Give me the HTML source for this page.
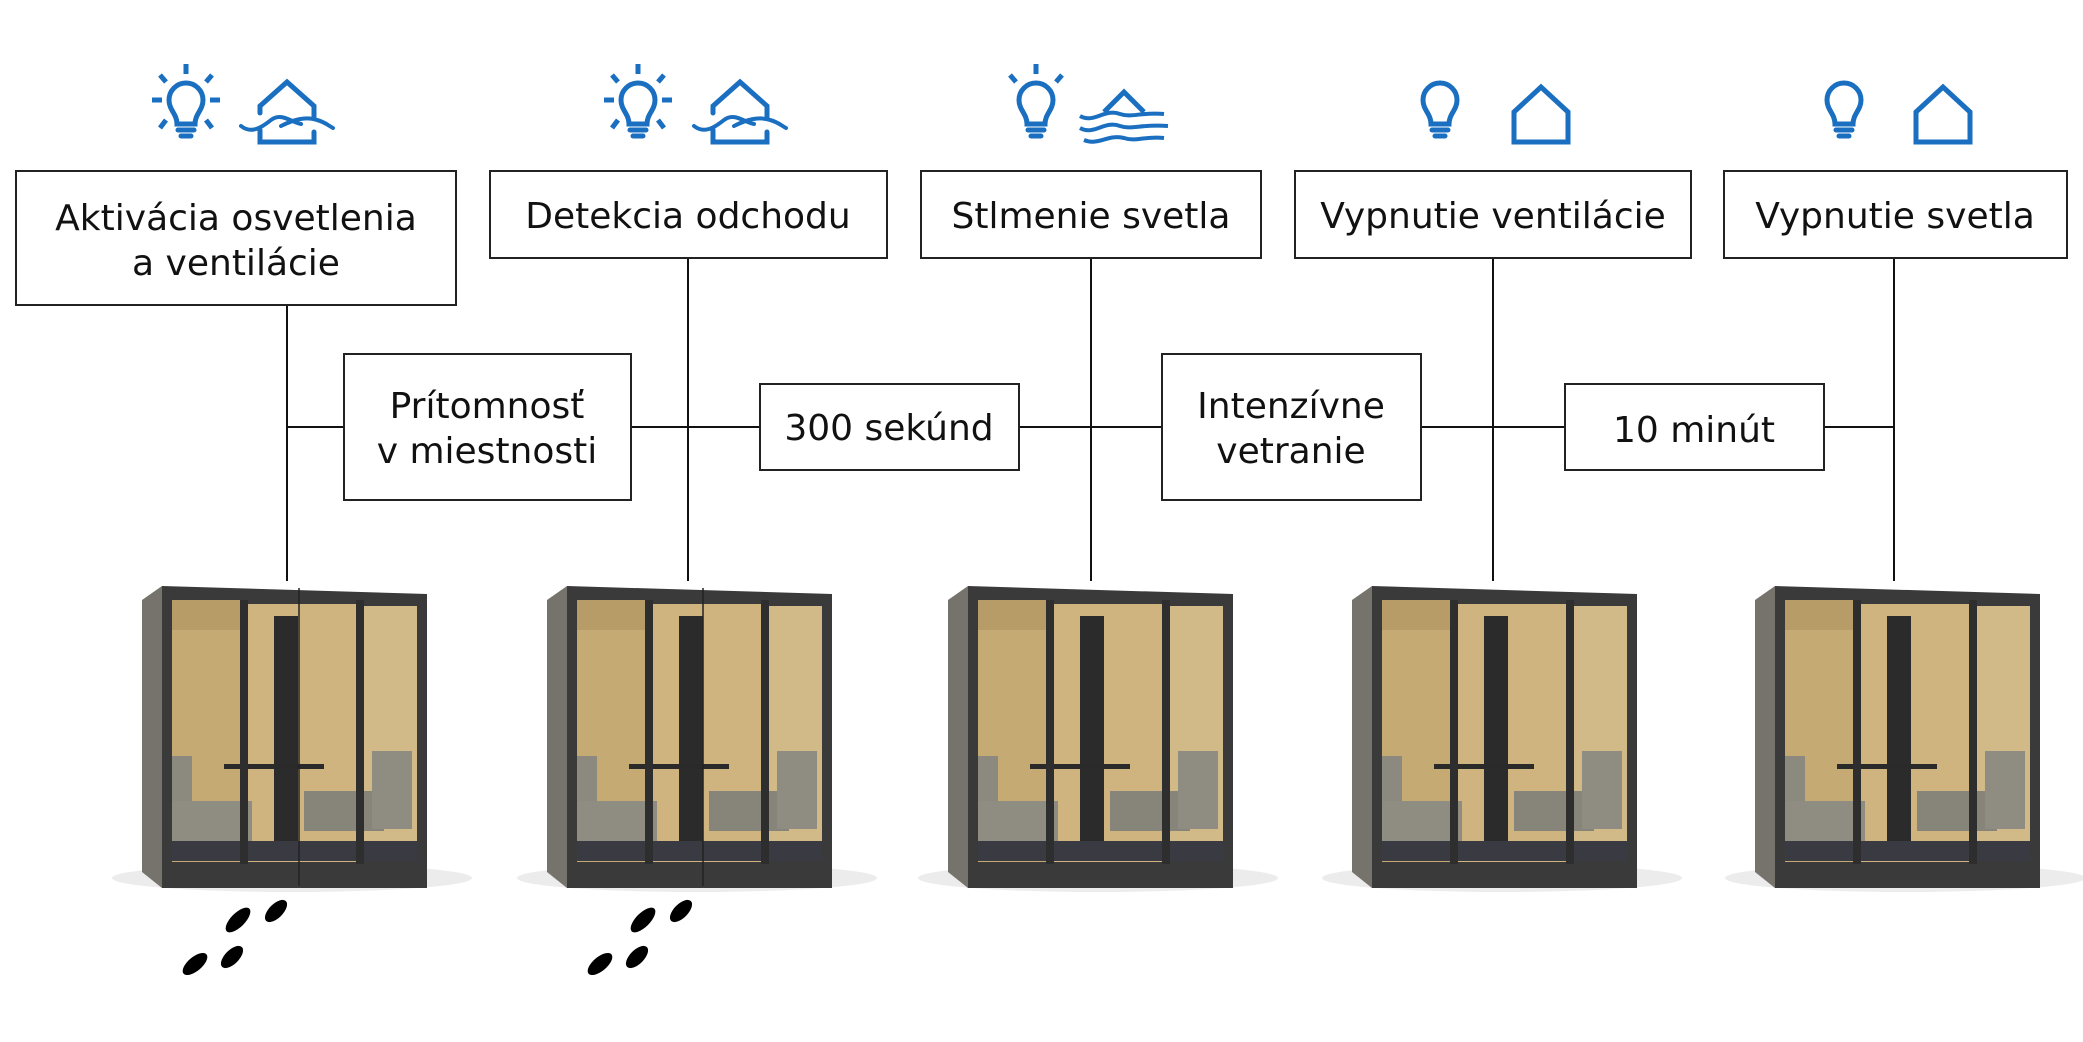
<!DOCTYPE html>
<html><head><meta charset="utf-8"><style>
html,body{margin:0;padding:0;background:#fff}
svg{display:block}
text{font-family:"DejaVu Sans","Liberation Sans",sans-serif;font-size:36px;fill:#111}
</style></head><body>
<svg width="2083" height="1042" viewBox="0 0 2083 1042" xmlns="http://www.w3.org/2000/svg">
<defs>
<g id="booth">
  <ellipse cx="150" cy="292" rx="180" ry="14" fill="#ececec"/>
  <polygon points="0,14 20,0 20,302 0,286" fill="#75736c"/>
  <polygon points="20,0 285,8 285,302 20,302" fill="#3a3a3a"/>
  <rect x="30" y="14" width="68" height="262" fill="#c6aa74"/>
  <rect x="106" y="18" width="108" height="258" fill="#cfb47f"/>
  <rect x="222" y="20" width="53" height="254" fill="#d2b988"/>
  <rect x="30" y="14" width="68" height="30" fill="#b89c68"/>
  <rect x="132" y="30" width="24" height="240" fill="#2b2b2b"/>
  <rect x="82" y="178" width="100" height="5" fill="#2a2a2a"/>
  <rect x="30" y="170" width="20" height="50" fill="#8c897f"/>
  <rect x="30" y="215" width="80" height="40" fill="#8f8c82"/>
  <rect x="162" y="205" width="80" height="40" fill="#87847a"/>
  <rect x="230" y="165" width="40" height="78" fill="#8f8c82"/>
  <rect x="30" y="255" width="245" height="20" fill="#3a3b42"/>
  <rect x="98" y="14" width="8" height="264" fill="#2e2e2e"/>
  <rect x="214" y="14" width="8" height="264" fill="#2e2e2e"/>
</g>
<g id="bulb" fill="none" stroke="#1a6fc0" stroke-width="5" stroke-linecap="round">
  <path d="M-9,14 C-9,4 -17,0 -17,-10 A17,17 0 1 1 17,-10 C17,0 9,4 9,14 Z"/>
  <line x1="-8" y1="20" x2="8" y2="20"/>
  <line x1="-5" y1="26" x2="5" y2="26"/>
</g>
<g id="rays" stroke="#1a6fc0" stroke-width="5" stroke-linecap="butt">
  <line x1="0" y1="-36" x2="0" y2="-46"/>
  <line x1="-20" y1="-28" x2="-26" y2="-35"/>
  <line x1="20" y1="-28" x2="26" y2="-35"/>
  <line x1="-24" y1="-10" x2="-34" y2="-10"/>
  <line x1="24" y1="-10" x2="34" y2="-10"/>
  <line x1="-20" y1="10" x2="-26" y2="18"/>
  <line x1="20" y1="10" x2="26" y2="18"/>
</g>
<g id="house" fill="none" stroke="#1a6fc0" stroke-width="5" stroke-linejoin="miter">
  <path d="M-27,-2 L0,-27 L27,-2 L27,28 L-27,28 Z"/>
</g>
<g id="whouse" fill="none" stroke="#1a6fc0" stroke-linecap="round">
  <path d="M-27,3 V-4 L0,-28 L27,-4 V8" stroke-width="5"/>
  <path d="M-27,20 V32 H27 V22" stroke-width="5"/>
  <path d="M-46,16 C-36,24 -26,18 -16,10 C-6,2 4,12 14,14" stroke-width="4"/>
  <path d="M-6,16 C6,10 18,6 30,10 C38,12 42,16 46,18" stroke-width="4"/>
</g>
</defs>

<!-- icons -->
<g transform="translate(186,110)"><use href="#bulb"/><use href="#rays"/></g>
<g transform="translate(287,110)"><use href="#whouse"/></g>
<g transform="translate(638,110)"><use href="#bulb"/><use href="#rays"/></g>
<g transform="translate(740,110)"><use href="#whouse"/></g>
<g transform="translate(1036,110)"><use href="#bulb"/>
  <g stroke="#1a6fc0" stroke-width="5"><line x1="0" y1="-36" x2="0" y2="-46"/><line x1="-20" y1="-28" x2="-26" y2="-35"/><line x1="20" y1="-28" x2="26" y2="-35"/></g></g>
<g transform="translate(1124,112)"><path d="M-20,0 L0,-20 L20,0" fill="none" stroke="#1a6fc0" stroke-width="5"/>
  <path d="M-44,4 C-30,12 -20,-4 -4,2 C8,6 16,0 40,2 M-44,16 C-30,24 -20,8 -4,14 C8,18 16,12 44,14 M-40,28 C-26,34 -16,22 0,26 C12,30 20,24 40,26" fill="none" stroke="#1a6fc0" stroke-width="4"/></g>
<g transform="translate(1440,110)"><use href="#bulb"/></g>
<g transform="translate(1541,114)"><use href="#house"/></g>
<g transform="translate(1844,110)"><use href="#bulb"/></g>
<g transform="translate(1943,114)"><use href="#house"/></g>

<!-- connectors -->
<g stroke="#111" stroke-width="2">
  <line x1="287" y1="305" x2="287" y2="581"/>
  <line x1="688" y1="258" x2="688" y2="581"/>
  <line x1="1091" y1="258" x2="1091" y2="581"/>
  <line x1="1493" y1="258" x2="1493" y2="581"/>
  <line x1="1894" y1="258" x2="1894" y2="581"/>
  <line x1="287" y1="427" x2="1894" y2="427"/>
</g>

<!-- boxes -->
<g fill="#fff" stroke="#222" stroke-width="2">
  <rect x="16" y="171" width="440" height="134"/>
  <rect x="490" y="171" width="397" height="87"/>
  <rect x="921" y="171" width="340" height="87"/>
  <rect x="1295" y="171" width="396" height="87"/>
  <rect x="1724" y="171" width="343" height="87"/>
  <rect x="344" y="354" width="287" height="146"/>
  <rect x="760" y="384" width="259" height="86"/>
  <rect x="1162" y="354" width="259" height="146"/>
  <rect x="1565" y="384" width="259" height="86"/>
</g>
<g text-anchor="middle">
  <text x="236" y="230">Aktivácia osvetlenia</text>
  <text x="236" y="275">a ventilácie</text>
  <text x="688" y="228">Detekcia odchodu</text>
  <text x="1091" y="228">Stlmenie svetla</text>
  <text x="1493" y="228">Vypnutie ventilácie</text>
  <text x="1895" y="228">Vypnutie svetla</text>
  <text x="487" y="418">Prítomnosť</text>
  <text x="487" y="463">v miestnosti</text>
  <text x="889" y="440">300 sekúnd</text>
  <text x="1291" y="418">Intenzívne</text>
  <text x="1291" y="463">vetranie</text>
  <text x="1694" y="442">10 minút</text>
</g>

<!-- booths -->
<use href="#booth" x="142" y="586"/>
<use href="#booth" x="547" y="586"/>
<use href="#booth" x="948" y="586"/>
<use href="#booth" x="1352" y="586"/>
<use href="#booth" x="1755" y="586"/>
<line x1="299" y1="588" x2="299" y2="886" stroke="#222" stroke-width="1.5"/>
<line x1="703" y1="588" x2="703" y2="886" stroke="#222" stroke-width="1.5"/>

<!-- footprints -->
<g fill="#000">
  <ellipse cx="238" cy="920" rx="7" ry="16" transform="rotate(45 238 920)"/>
  <ellipse cx="276" cy="911" rx="7" ry="14" transform="rotate(45 276 911)"/>
  <ellipse cx="195" cy="964" rx="7" ry="15" transform="rotate(50 195 964)"/>
  <ellipse cx="232" cy="957" rx="7" ry="14" transform="rotate(45 232 957)"/>
  <ellipse cx="643" cy="920" rx="7" ry="16" transform="rotate(45 643 920)"/>
  <ellipse cx="681" cy="911" rx="7" ry="14" transform="rotate(45 681 911)"/>
  <ellipse cx="600" cy="964" rx="7" ry="15" transform="rotate(50 600 964)"/>
  <ellipse cx="637" cy="957" rx="7" ry="14" transform="rotate(45 637 957)"/>
</g>
</svg>
</body></html>
